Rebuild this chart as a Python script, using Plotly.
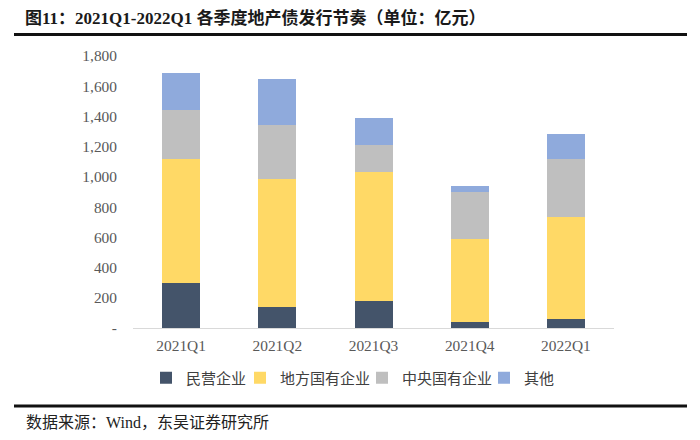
import plotly.graph_objects as go

categories = ["2021Q1", "2021Q2", "2021Q3", "2021Q4", "2022Q1"]
private_ent = [295, 137, 177, 42, 62]
local_soe = [822, 848, 856, 549, 675]
central_soe = [327, 359, 179, 308, 380]
others = [243, 307, 181, 43, 166]

series_names = ["民营企业", "地方国有企业", "中央国有企业", "其他"]
series_values = [private_ent, local_soe, central_soe, others]
series_colors = ["#44546A", "#FFD966", "#BFBFBF", "#8FAADC"]

y_tickvals = [0, 200, 400, 600, 800, 1000, 1200, 1400, 1600, 1800]
y_ticktext = ["-", "200", "400", "600", "800", "1,000", "1,200", "1,400", "1,600", "1,800"]

title_text = "图11：2021Q1-2022Q1 各季度地产债发行节奏（单位：亿元）"
source_text = "数据来源：Wind，东吴证券研究所"

# page has an 8px body margin; work in page pixels and convert
OFF = 8
W, H = 700 - OFF, 440 - OFF
PL, PR, PT, PB = 133, 614, 56, 328  # plot area in page pixels
L, T = PL - OFF, PT - OFF
R = W - (PR - OFF)
B = H - (PB - OFF)
pw, ph = PR - PL, PB - PT

def px_x(x):
    return (x - PL) / pw

def px_y(y):
    return (PB - y) / ph

serif = "Liberation Serif, Times New Roman, serif"
cjk = "Noto Sans CJK SC, sans-serif"
mixed = "Liberation Serif, Noto Sans CJK SC, serif"

legend_ids = ["legend", "legend2", "legend3", "legend4"]
legend_sym_centers = [167, 261, 383, 505]  # page px

fig = go.Figure()
for name, vals, col, lid in zip(series_names, series_values, series_colors, legend_ids):
    fig.add_trace(go.Bar(x=categories, y=vals, name=name, legend=lid,
                         marker=dict(color=col, line=dict(width=0))))

legend_layout = {}
for lid, cx in zip(legend_ids, legend_sym_centers):
    legend_layout[lid] = dict(
        orientation="h",
        x=px_x(cx - 21), y=px_y(378), xanchor="left", yanchor="middle",
        font=dict(family=cjk, size=15, color="#404040"),
        itemwidth=30,
        bgcolor="rgba(0,0,0,0)",
    )

fig.update_layout(
    width=W, height=H,
    margin=dict(l=L, r=R, t=T, b=B),
    barmode="stack",
    bargap=0.605,
    plot_bgcolor="white",
    paper_bgcolor="white",
    showlegend=True,
    title=dict(
        text=title_text,
        x=(25 - OFF) / W, y=1 - (18 - OFF) / H, xanchor="left", yanchor="middle",
        xref="container", yref="container",
        font=dict(family=mixed, size=17, color="#1a1a1a", weight="bold"),
    ),
    xaxis=dict(
        showline=True, linecolor="#D9D9D9", linewidth=1,
        showgrid=False, ticks="", ticklabelstandoff=4,
        tickfont=dict(family=serif, size=15.4, color="#595959"),
    ),
    yaxis=dict(
        range=[0, 1800], tickvals=y_tickvals, ticktext=y_ticktext,
        showline=False, showgrid=False, zeroline=False, ticks="",
        ticklabelstandoff=15,
        tickfont=dict(family=serif, size=15.4, color="#595959"),
    ),
    shapes=[
        dict(type="line", xref="paper", yref="paper", x0=px_x(14), x1=px_x(687), y0=px_y(34.5), y1=px_y(34.5),
             line=dict(color="#111111", width=3)),
        dict(type="line", xref="paper", yref="paper", x0=px_x(14), x1=px_x(687), y0=px_y(406), y1=px_y(406),
             line=dict(color="#111111", width=3)),
    ],
    annotations=[
        dict(text=source_text, xref="paper", yref="paper", x=px_x(24), y=px_y(423), xanchor="left", yanchor="middle",
             showarrow=False, font=dict(family=mixed, size=16, color="#222222")),
    ],
    **legend_layout,
)

fig.write_html("out.html")
